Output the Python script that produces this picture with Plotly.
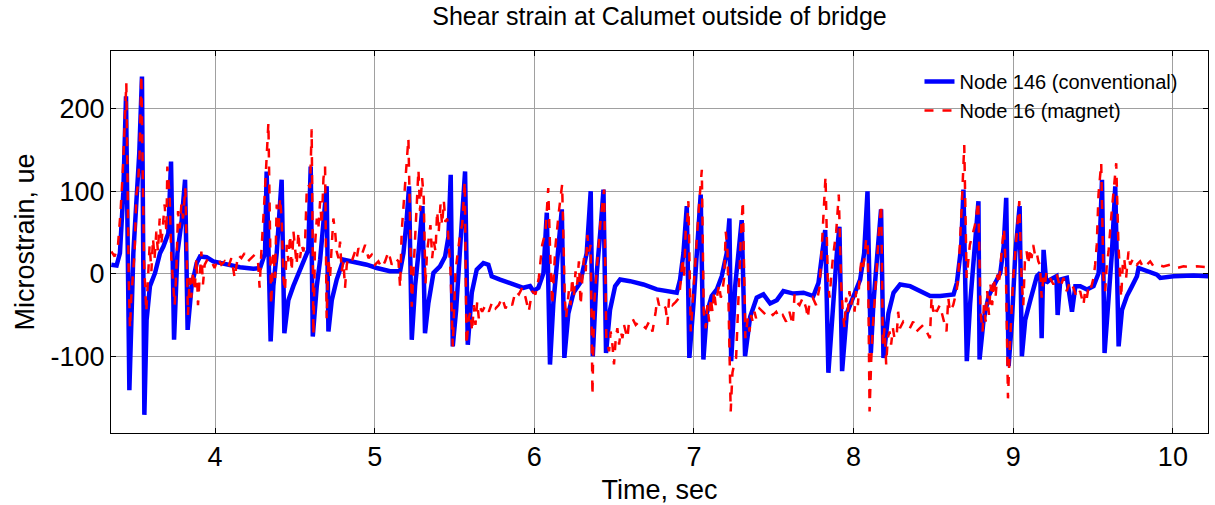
import plotly.graph_objects as go

# Node 146 (conventional) - time (s) and microstrain
t_conv = [3.350, 3.383, 3.404, 3.425, 3.442, 3.463, 3.488, 3.509, 3.525, 3.542, 3.557, 3.571, 3.592, 3.624,
          3.655, 3.676, 3.707, 3.724, 3.743, 3.764, 3.791, 3.812, 3.828, 3.853, 3.885, 3.906, 3.947, 3.989,
          4.073, 4.156, 4.240, 4.282, 4.313, 4.323, 4.348, 4.365, 4.386, 4.417, 4.434, 4.459, 4.490, 4.532,
          4.563, 4.584, 4.599, 4.612, 4.637, 4.658, 4.699, 4.710, 4.731, 4.762, 4.804, 4.866, 4.950, 5.013,
          5.096, 5.159, 5.180, 5.200, 5.215, 5.232, 5.253, 5.274, 5.299, 5.315, 5.336, 5.368, 5.409, 5.441,
          5.462, 5.476, 5.489, 5.510, 5.535, 5.566, 5.583, 5.608, 5.639, 5.681, 5.712, 5.733, 5.785, 5.848,
          5.890, 5.931, 5.973, 5.994, 6.025, 6.057, 6.078, 6.098, 6.119, 6.151, 6.172, 6.188, 6.213, 6.245,
          6.287, 6.328, 6.353, 6.366, 6.391, 6.416, 6.433, 6.449, 6.474, 6.506, 6.537, 6.600, 6.683, 6.767,
          6.850, 6.892, 6.913, 6.934, 6.955, 6.971, 6.997, 7.028, 7.042, 7.059, 7.080, 7.111, 7.143, 7.174,
          7.205, 7.222, 7.233, 7.258, 7.285, 7.299, 7.320, 7.352, 7.393, 7.435, 7.477, 7.519, 7.560, 7.623,
          7.686, 7.748, 7.780, 7.807, 7.822, 7.842, 7.863, 7.895, 7.911, 7.928, 7.957, 7.999, 8.041, 8.066,
          8.087, 8.108, 8.124, 8.149, 8.172, 8.187, 8.218, 8.250, 8.291, 8.354, 8.417, 8.480, 8.542, 8.626,
          8.647, 8.674, 8.688, 8.709, 8.730, 8.761, 8.782, 8.789, 8.814, 8.846, 8.877, 8.919, 8.940, 8.956,
          8.971, 8.992, 9.013, 9.040, 9.054, 9.075, 9.107, 9.148, 9.169, 9.178, 9.190, 9.207, 9.232, 9.270,
          9.278, 9.295, 9.336, 9.368, 9.389, 9.420, 9.462, 9.503, 9.535, 9.556, 9.572, 9.597, 9.618, 9.639,
          9.660, 9.681, 9.712, 9.744, 9.775, 9.785, 9.838, 9.900, 9.921, 10.005, 10.130, 10.224]
v_conv = [11, 10, 25, 98, 215, -141, 25, 98, 146, 239, -171, -56, -15, 1,
          25, 33, 49, 136, -80, 25, 65, 114, -68, -15, 13, 21, 20, 15,
          11, 8, 6, 7, 25, 124, -82, -15, 25, 114, -72, -32, -15, 5,
          17, 29, 130, -76, -15, 17, 106, -70, -32, -7, 17, 15, 11, 7,
          3, 3, 25, 65, 106, -80, -15, 25, 82, -72, -36, 1, 9, 21,
          45, 120, -88, -44, 25, 124, -86, -23, 5, 13, 11, -3, -7, -11,
          -15, -17, -15, -21, -17, 1, 74, -110, -36, 25, 78, -102, -48, -23,
          -11, 25, 100, -100, 1, 57, 102, -96, -44, -15, -7, -9, -13, -19,
          -21, -23, -7, 25, 82, -102, -36, 65, 96, -104, -48, -27, -19, -3,
          25, 67, -106, -15, 33, 65, -100, -52, -29, -25, -36, -32, -21, -24,
          -23, -27, -11, 25, 53, -120, -56, 25, 57, -118, -48, -27, -7, 25,
          100, -96, -36, 25, 78, -102, -48, -23, -13, -15, -21, -27, -27, -25,
          -11, 33, 102, -106, -36, 33, 88, -104, -56, -27, -15, 1, 33, 92,
          -112, -56, 25, 82, -100, -56, -32, -3, 1, -78, 29, -11, -7, -3,
          -50, -7, -5, -46, -15, -15, -19, -15, 1, 114, -96, -36, 25, 106,
          -88, -44, -27, -15, -3, 7, 3, -1, -5, -3, -2, -3]

# Node 16 (magnet)
t_mag = [3.350, 3.371, 3.392, 3.408, 3.423, 3.433, 3.444, 3.459, 3.467, 3.475, 3.486, 3.496, 3.507, 3.517,
         3.527, 3.538, 3.555, 3.569, 3.580, 3.590, 3.601, 3.611, 3.621, 3.632, 3.642, 3.653, 3.663, 3.674,
         3.684, 3.695, 3.701, 3.715, 3.726, 3.747, 3.757, 3.768, 3.778, 3.789, 3.799, 3.814, 3.830, 3.841,
         3.851, 3.862, 3.872, 3.883, 3.893, 3.903, 3.914, 3.924, 3.935, 3.956, 3.977, 3.997, 4.018, 4.039,
         4.060, 4.081, 4.102, 4.123, 4.144, 4.165, 4.185, 4.206, 4.227, 4.248, 4.269, 4.279, 4.290, 4.300,
         4.311, 4.334, 4.351, 4.365, 4.376, 4.386, 4.397, 4.407, 4.417, 4.428, 4.438, 4.449, 4.459, 4.470,
         4.480, 4.491, 4.501, 4.511, 4.522, 4.532, 4.543, 4.553, 4.564, 4.574, 4.585, 4.595, 4.605, 4.616,
         4.626, 4.637, 4.647, 4.658, 4.668, 4.679, 4.689, 4.699, 4.710, 4.720, 4.731, 4.741, 4.752, 4.762,
         4.773, 4.783, 4.793, 4.804, 4.814, 4.825, 4.835, 4.856, 4.877, 4.887, 4.898, 4.919, 4.940, 4.961,
         4.981, 5.002, 5.023, 5.044, 5.065, 5.086, 5.107, 5.128, 5.149, 5.159, 5.169, 5.190, 5.211, 5.232,
         5.243, 5.253, 5.263, 5.274, 5.284, 5.297, 5.307, 5.318, 5.328, 5.339, 5.349, 5.360, 5.370, 5.381,
         5.391, 5.401, 5.412, 5.422, 5.433, 5.443, 5.454, 5.464, 5.475, 5.489, 5.506, 5.516, 5.527, 5.537,
         5.548, 5.564, 5.575, 5.589, 5.600, 5.610, 5.621, 5.631, 5.642, 5.652, 5.663, 5.673, 5.694, 5.715,
         5.736, 5.757, 5.777, 5.798, 5.819, 5.840, 5.861, 5.882, 5.903, 5.924, 5.945, 5.965, 5.986, 6.007,
         6.028, 6.049, 6.070, 6.087, 6.101, 6.112, 6.122, 6.133, 6.154, 6.174, 6.191, 6.199, 6.216, 6.227,
         6.237, 6.247, 6.258, 6.268, 6.279, 6.290, 6.301, 6.311, 6.322, 6.332, 6.343, 6.353, 6.364, 6.374,
         6.395, 6.416, 6.437, 6.451, 6.468, 6.478, 6.489, 6.499, 6.510, 6.520, 6.531, 6.541, 6.552, 6.562,
         6.572, 6.583, 6.593, 6.614, 6.635, 6.656, 6.677, 6.698, 6.719, 6.740, 6.760, 6.771, 6.781, 6.802,
         6.823, 6.834, 6.844, 6.865, 6.886, 6.907, 6.917, 6.928, 6.938, 6.948, 6.959, 6.965, 6.980, 6.990,
         7.001, 7.011, 7.022, 7.032, 7.049, 7.061, 7.074, 7.084, 7.095, 7.105, 7.116, 7.126, 7.136, 7.147,
         7.157, 7.168, 7.178, 7.189, 7.199, 7.210, 7.230, 7.241, 7.251, 7.264, 7.274, 7.285, 7.295, 7.306,
         7.322, 7.337, 7.348, 7.358, 7.368, 7.379, 7.389, 7.410, 7.431, 7.452, 7.473, 7.494, 7.515, 7.536,
         7.556, 7.577, 7.598, 7.619, 7.630, 7.640, 7.661, 7.682, 7.703, 7.713, 7.724, 7.744, 7.765, 7.786,
         7.797, 7.807, 7.824, 7.838, 7.849, 7.859, 7.870, 7.891, 7.907, 7.922, 7.932, 7.943, 7.953, 7.964,
         7.974, 7.985, 7.995, 8.006, 8.016, 8.027, 8.037, 8.048, 8.058, 8.068, 8.079, 8.089, 8.100, 8.110,
         8.120, 8.141, 8.158, 8.173, 8.183, 8.194, 8.204, 8.214, 8.225, 8.235, 8.246, 8.256, 8.269, 8.279,
         8.290, 8.311, 8.332, 8.352, 8.373, 8.394, 8.415, 8.436, 8.457, 8.478, 8.488, 8.499, 8.509, 8.520,
         8.540, 8.561, 8.582, 8.593, 8.603, 8.624, 8.645, 8.655, 8.666, 8.676, 8.693, 8.708, 8.728, 8.749,
         8.760, 8.781, 8.795, 8.808, 8.816, 8.827, 8.837, 8.848, 8.858, 8.868, 8.879, 8.889, 8.900, 8.910,
         8.921, 8.931, 8.942, 8.954, 8.967, 8.979, 9.000, 9.021, 9.038, 9.052, 9.063, 9.073, 9.084, 9.094,
         9.105, 9.115, 9.125, 9.136, 9.146, 9.157, 9.167, 9.178, 9.188, 9.198, 9.209, 9.230, 9.252, 9.273,
         9.294, 9.315, 9.335, 9.356, 9.377, 9.398, 9.419, 9.440, 9.450, 9.461, 9.471, 9.482, 9.492, 9.503,
         9.513, 9.523, 9.534, 9.551, 9.565, 9.576, 9.586, 9.597, 9.617, 9.645, 9.659, 9.670, 9.676, 9.686,
         9.695, 9.707, 9.722, 9.732, 9.743, 9.753, 9.774, 9.795, 9.816, 9.837, 9.858, 9.879, 9.899, 9.941,
         9.983, 10.025, 10.067, 10.108, 10.150, 10.213, 10.234]
v_mag = [27, 21, 35, 76, 128, 177, 231, -5, -66, -29, -5, 27, 96, 108,
         144, 241, 15, -46, -5, 35, 3, 43, 19, 51, 27, 67, 35, 59,
         84, 51, 130, 96, 19, -38, 3, 76, 55, 84, 67, 104, -50, -5,
         -29, 3, -21, 19, -38, -5, 27, -13, 11, 19, 15, 7, 19, 11,
         15, 7, 19, -5, 23, 19, 25, 15, 19, 23, 15, -17, 27, 55,
         96, 183, -38, 27, -5, 84, 51, 92, 67, -5, -21, 35, 15, 47,
         3, 51, 27, 11, 51, 19, 35, 27, 39, 100, 108, 104, 175, -74,
         35, 67, 55, 88, 59, 116, 130, -54, 19, -5, 35, 67, 51, 27,
         19, 39, 3, 15, -17, 11, 19, 15, 27, 19, 31, 23, 35, 19,
         23, 11, 15, 7, 15, 27, 11, 19, 15, -17, 51, 104, 164, -40,
         3, 51, 96, 126, 76, 116, 92, -13, 27, 43, 59, 19, 39, 27,
         76, 51, 84, 59, 88, 63, 67, 35, 3, -88, 3, 19, 35, 51,
         59, 112, -86, -54, -46, -70, -38, -62, -34, -54, -42, -46, -38, -46,
         -34, -42, -38, -29, -42, -34, -38, -21, -25, -17, -29, -46, -21, -25,
         -5, 35, 51, 104, 15, -38, -1, 35, 76, 108, -29, -54, -21, -38,
         -5, -29, 3, -13, 15, -38, -5, 19, 3, 47, 27, 35, -147, -38,
         15, 67, 102, -78, -94, -70, -86, -110, -78, -66, -86, -70, -78, -62,
         -70, -78, -58, -54, -62, -58, -62, -66, -58, -70, -46, -29, -38, -34,
         -42, -62, -29, -38, -34, -29, -9, 19, -5, 51, 67, 88, -70, -38,
         -5, 19, 59, 84, 126, -46, -66, -38, -58, -29, -46, -21, -38, -25,
         -13, -29, -21, -5, 51, 27, -167, -120, -110, -102, -46, 15, 51, 88,
         -78, -54, -70, -50, -58, -46, -54, -42, -46, -50, -46, -50, -46, -54,
         -50, -58, -46, -62, -25, -34, -38, -29, -42, -54, -34, -29, -38, -17,
         19, 51, 118, -5, -29, -5, 19, 51, 96, -13, -46, -66, -29, -46,
         -21, -38, -29, -46, -21, -38, -5, 15, 7, 19, 43, 35, -167, -106,
         -66, -5, 51, 84, -86, -66, -110, -78, -70, -86, -66, -78, -78, -46,
         -66, -58, -62, -66, -58, -70, -66, -62, -70, -78, -29, -46, -38, -46,
         -38, -54, -70, -29, -46, -38, -21, -5, 35, 76, 156, -5, 35, 51,
         59, 88, -46, -70, -38, -58, -21, -50, -13, -38, -5, -29, -1, -13,
         15, 35, 55, 3, -151, -86, -5, 51, 88, -5, -38, 15, 27, 11,
         31, 19, 35, 23, 27, 15, 11, -29, -5, -13, 3, -5, -13, -1,
         -17, -5, -21, -9, -17, -29, -21, -38, -21, -29, -17, -21, -13, -5,
         11, 35, 96, 134, -5, -21, 11, 27, 76, 134, 35, -5, -29, 11,
         19, -5, 27, 11, 15, 19, 11, 15, 7, 11, 15, 9, 11, 9,
         11, 7, 9, 8, 9, 8, 9]

x_ticks = [4, 5, 6, 7, 8, 9, 10]
y_ticks = [-100, 0, 100, 200]
y_tick_labels = ["-100", "0", "100", "200"]

fig = go.Figure()
fig.add_trace(go.Scatter(x=t_conv, y=v_conv, mode="lines", name="Node 146 (conventional)",
                         line=dict(color="#0000FF", width=4.5)))
fig.add_trace(go.Scatter(x=t_mag, y=v_mag, mode="lines", name="Node 16 (magnet)",
                         line=dict(color="#FF0000", width=2.5, dash="dash")))

font_family = "Arial, Liberation Sans, sans-serif"
axis_common = dict(showline=True, linecolor="black", linewidth=1, mirror="ticks",
                   ticks="inside", ticklen=5, tickcolor="black", automargin=False,
                   showgrid=True, gridcolor="#a0a0a0", gridwidth=1, zeroline=False,
                   tickfont=dict(family=font_family, size=27, color="black"))

fig.update_layout(
    width=1215, height=505,
    margin=dict(l=111, r=7, t=51, b=72),
    paper_bgcolor="white", plot_bgcolor="white",
    title=dict(text="Shear strain at Calumet outside of bridge", x=(111 + 1208) / 2 / 1215,
               xanchor="center", y=1 - 16 / 505, yanchor="middle", yref="container",
               font=dict(family=font_family, size=25, color="black")),
    xaxis=dict(range=[3.348, 10.22], tickvals=x_ticks,
               title=dict(text="Time, sec", font=dict(family=font_family, size=27, color="black")),
               **axis_common),
    yaxis=dict(range=[-193, 270], tickvals=y_ticks, ticktext=y_tick_labels,
               title=dict(text="Microstrain, ue", font=dict(family=font_family, size=27, color="black"),
                          standoff=8),
               **axis_common),
    legend=dict(x=0.737, y=0.971, xanchor="left", yanchor="top",
                bgcolor="rgba(0,0,0,0)", borderwidth=0,
                font=dict(family=font_family, size=20, color="black"),
                tracegroupgap=0),
    showlegend=True,
)

fig.write_html("out.html", config={"displayModeBar": False},
               post_script="document.body.style.margin='0px';")
